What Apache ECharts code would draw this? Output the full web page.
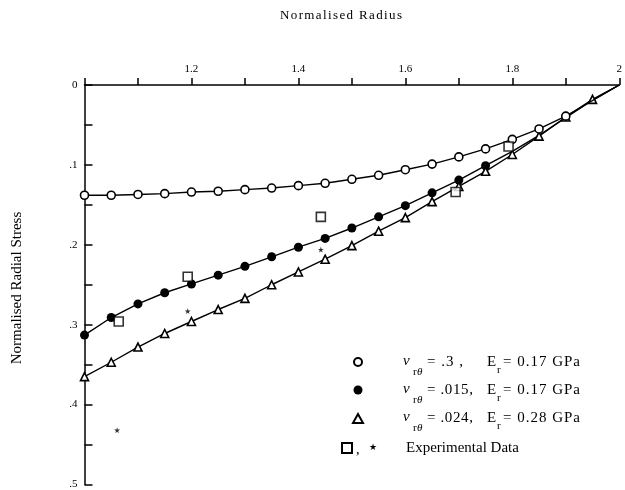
<!DOCTYPE html>
<html>
<head>
<meta charset="utf-8">
<script src="https://cdn.jsdelivr.net/npm/echarts@6/dist/echarts.min.js"></script>
<style>html,body{margin:0;padding:0;background:#fff}#c{width:625px;height:490px}</style>
</head>
<body>
<div id="c"></div>
<script>
// ---- data ----
const radius = [1.00,1.05,1.10,1.15,1.20,1.25,1.30,1.35,1.40,1.45,1.50,1.55,1.60,1.65,1.70,1.75,1.80,1.85,1.90,1.95,2.00];
const stressNu03   = [0.138,0.138,0.137,0.136,0.134,0.133,0.131,0.129,0.126,0.123,0.118,0.113,0.106,0.099,0.090,0.080,0.068,0.055,0.039,null,0];
const stressNu015  = [0.313,0.291,0.274,0.260,0.249,0.238,0.227,0.215,0.203,0.192,0.179,0.165,0.151,0.135,0.119,0.101,0.083,0.063,0.041,0.019,0];
const stressNu024  = [0.365,0.347,0.328,0.311,0.296,0.281,0.267,0.250,0.234,0.218,0.201,0.183,0.166,0.146,0.127,0.108,0.087,0.064,0.040,0.018,0];
const nu015MarkerCount = 16; // markers drawn up to r = 1.75
const expSquareR = [1.064,1.193,1.442,1.694,1.793];
const expSquareS = [0.296,0.240,0.165,0.134,0.077];
const expStarR = [1.061,1.193,1.442];
const expStarS = [0.432,0.283,0.206];
const xTickLabels = ['1.2','1.4','1.6','1.8','2'];
const yTickLabels = ['0','.1','.2','.3','.4','.5'];

const SERIF = '"Liberation Serif", "Times New Roman", serif';
const ctx = document.createElement('canvas').getContext('2d');
function spaced(str, x, y, size, width, italic) {
  const font = (italic ? 'italic ' : '') + size + 'px ' + SERIF;
  ctx.font = font;
  const chars = Array.from(str);
  const ws = chars.map(c => ctx.measureText(c).width);
  const W = ws.reduce((a, b) => a + b, 0);
  const extra = (width && chars.length > 1) ? (width - W) / (chars.length - 1) : 0;
  let cx = x;
  return chars.map((c, i) => {
    const el = {type: 'text', x: cx, y: y, silent: true,
      style: {text: c, font: font, fill: '#000', align: 'left', verticalAlign: 'middle'}};
    cx += ws[i] + extra;
    return el;
  });
}
function txt(str, x, y, size, italic) {
  return {type: 'text', x: x, y: y, silent: true,
    style: {text: str, font: (italic ? 'italic ' : '') + size + 'px ' + SERIF, fill: '#000', align: 'left', verticalAlign: 'middle'}};
}

function lineData(ys, markerCount) {
  const out = [];
  radius.forEach((r, i) => {
    if (ys[i] === null) return;
    const item = {value: [r, ys[i]]};
    if (i >= markerCount || r === 2) item.symbol = 'none';
    out.push(item);
  });
  return out;
}

const starPath = 'path://M50,0 L61,35 L98,35 L68,57 L79,91 L50,70 L21,91 L32,57 L2,35 L39,35 Z';

const graphics = [];
// title & y label
graphics.push(...spaced('Normalised Radius', 280, 16, 13, 122));
graphics.push({type: 'text', x: 17, y: 288, rotation: Math.PI / 2, silent: true,
  style: {text: 'Normalised Radial Stress', font: '15px ' + SERIF, fill: '#000', align: 'center', verticalAlign: 'middle'}});
// legend markers
graphics.push({type: 'circle', shape: {cx: 358, cy: 362, r: 4}, style: {fill: '#fff', stroke: '#000', lineWidth: 2}});
graphics.push({type: 'circle', shape: {cx: 358, cy: 390, r: 4.5}, style: {fill: '#000'}});
graphics.push({type: 'polygon', shape: {points: [[358, 414], [353, 423], [363, 423]]}, style: {fill: '#fff', stroke: '#000', lineWidth: 2}});
graphics.push({type: 'rect', shape: {x: 342, y: 443, width: 10, height: 10}, style: {fill: '#fff', stroke: '#000', lineWidth: 2}});
graphics.push(txt(',', 356, 450, 14));
graphics.push({type: 'text', x: 373, y: 448, silent: true, style: {text: '★', font: '9px "DejaVu Sans"', fill: '#000', align: 'center', verticalAlign: 'middle'}});
// legend rows
const rows = [[362, '= .3 ,', 36, '= 0.17 GPa'], [390, '= .015,', 46, '= 0.17 GPa'], [418, '= .024,', 46, '= 0.28 GPa']];
rows.forEach(([cy, nuTxt, nuW, eTxt]) => {
  graphics.push(txt('ν', 403, cy - 1, 15, true));
  graphics.push(txt('r', 413, cy + 10, 11));
  graphics.push(txt('θ', 417, cy + 10, 11, true));
  graphics.push(...spaced(nuTxt, 427, cy, 15, nuW));
  graphics.push(txt('E', 487, cy, 15));
  graphics.push(txt('r', 497, cy + 8, 11));
  graphics.push(...spaced(eTxt, 503, cy, 15, 77));
});
graphics.push(txt('Experimental Data', 406, 448, 15));

const chart = echarts.init(document.getElementById('c'), null, {renderer: 'canvas'});
chart.setOption({
  animation: false,
  backgroundColor: '#fff',
  grid: {left: 84.5, top: 85, right: 4, bottom: 2.7, containLabel: false},
  xAxis: {
    type: 'value', position: 'top', min: 1, max: 2, interval: 0.1,
    axisLine: {show: true, onZero: false, lineStyle: {color: '#000', width: 1.5}},
    axisTick: {show: true, inside: false, length: 7, lineStyle: {color: '#000', width: 1.5}},
    splitLine: {show: false},
    axisLabel: {
      margin: 10, color: '#000', fontFamily: SERIF, fontSize: 11,
      formatter: v => {
        const k = Math.round(v * 10);
        if (k % 2 !== 0 || k === 10) return '';
        return xTickLabels[(k - 12) / 2] || '';
      }
    }
  },
  yAxis: {
    type: 'value', inverse: true, min: 0, max: 0.5, interval: 0.05,
    axisLine: {show: true, onZero: false, lineStyle: {color: '#000', width: 1.5}},
    axisTick: {show: true, inside: true, length: 8, lineStyle: {color: '#000', width: 1.5}},
    splitLine: {show: false},
    axisLabel: {
      margin: 7, color: '#000', fontFamily: SERIF, fontSize: 11,
      formatter: v => {
        const k = Math.round(v * 20);
        if (k % 2 !== 0) return '';
        return yTickLabels[k / 2];
      }
    }
  },
  series: [
    {type: 'line', name: 'nu015', data: lineData(stressNu015, nu015MarkerCount), symbol: 'circle', symbolSize: 9,
      lineStyle: {color: '#000', width: 1.4}, itemStyle: {color: '#000'}, z: 3},
    {type: 'line', name: 'nu024', data: lineData(stressNu024, 99), symbol: 'triangle', symbolSize: 8,
      lineStyle: {color: '#000', width: 1.4}, itemStyle: {color: '#fff', borderColor: '#000', borderWidth: 1.6}, z: 4},
    {type: 'line', name: 'nu03', data: lineData(stressNu03, 99), symbol: 'circle', symbolSize: 8, connectNulls: true,
      lineStyle: {color: '#000', width: 1.4}, itemStyle: {color: '#fff', borderColor: '#000', borderWidth: 1.6}, z: 5},
    {type: 'scatter', name: 'expSquare', data: expSquareR.map((r, i) => [r, expSquareS[i]]), symbol: 'rect', symbolSize: 9,
      itemStyle: {color: '#fff', borderColor: '#000', borderWidth: 1.6}, z: 6},
    {type: 'scatter', name: 'expStar', data: expStarR.map((r, i) => [r, expStarS[i]]), symbol: starPath, symbolSize: 6,
      itemStyle: {color: '#000'}, z: 6}
  ],
  graphic: graphics
});
</script>
</body>
</html>
